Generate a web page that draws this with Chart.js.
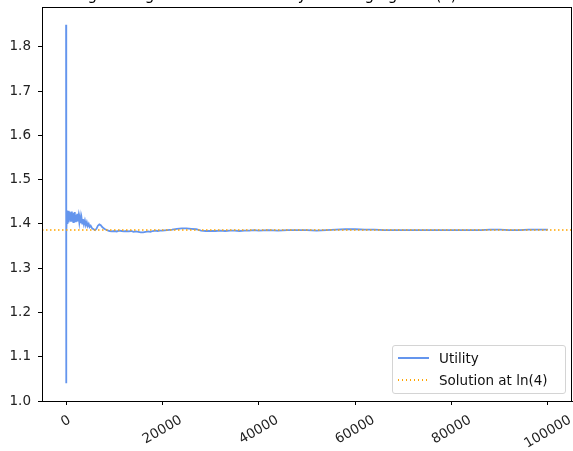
<!DOCTYPE html>
<html lang="en">
<head>
    <meta charset="UTF-8">
    <title>Utility running average</title>
    <style>
        body {
            margin: 0;
            padding: 0;
            background: #fff;
            width: 573px;
            height: 451px;
            overflow: hidden;
            position: relative;
            font-family: 'DejaVu Sans', sans-serif;
        }

        #chart {
            position: absolute;
            left: 0;
            top: -13px;
        }

        /* legend box, lower right inside the axes */
        #legend {
            position: absolute;
            left: 392px;
            top: 345px;
            width: 172px;
            height: 47px;
            border: 1px solid #d4d4d4;
            border-radius: 3px;
            background: rgba(255, 255, 255, 0.8);
            font-size: 13.5px;
            color: #111;
        }

        .entry {
            position: absolute;
            left: 0;
            height: 16px;
            line-height: 16px;
        }

        .sample {
            position: absolute;
            left: 5px;
            top: 7px;
            width: 31px;
            height: 1.6px;
        }

        .solid { background: #6495ED; }
        .dots { background: repeating-linear-gradient(90deg, #FFA500 0 1.5px, transparent 1.5px 4px); }

        .label {
            position: absolute;
            left: 46px;
            white-space: nowrap;
        }
    </style>
</head>
<body>
    <canvas id="chart" width="573" height="464"></canvas>

    <div id="legend">
        <div class="entry" style="top: 4px;">
            <span class="sample solid"></span>
            <span class="label">Utility</span>
        </div>
        <div class="entry" style="top: 26px;">
            <span class="sample dots"></span>
            <span class="label">Solution at ln(4)</span>
        </div>
    </div>

    <script src="https://cdn.jsdelivr.net/npm/chart.js"></script>
    <script>
        // iterations and running-average utility
        const iterations = [
            0, 1, 2, 3, 4, 5, 7, 10, 15, 22, 30, 45, 60, 80, 110, 150, 200, 260, 330, 400,
            480, 560, 650, 740, 830, 920, 1000, 1100, 1200, 1300, 1400, 1500, 1600, 1700, 1800, 1900,
            2000, 2150, 2300, 2450, 2600, 2750, 2900, 3050, 3200, 3350, 3500, 3700, 3900, 4100,
            4300, 4500, 4700, 4900, 5100, 5400, 5700, 6000, 6300, 6600, 6900, 7200, 7500, 7800,
            8100, 8500, 9000, 9500, 10000, 10500, 11000, 11500, 12000, 12500, 13000, 13500, 14000,
            14500, 15000, 15500, 16000, 16500, 17000, 17500, 18000, 18500, 19000, 19500, 20000,
            21000, 22000, 23000, 24000, 25000, 26000, 27000, 28000, 29000, 30000, 31000, 32000,
            33000, 34000, 35000, 36000, 37000, 38000, 39000, 40000, 42000, 44000, 46000, 48000,
            50000, 52000, 54000, 56000, 58000, 60000, 62000, 64000, 66000, 68000, 70000, 72000,
            74000, 76000, 78000, 80000, 82000, 84000, 86000, 88000, 90000, 92000, 94000, 96000,
            98000, 100000
        ];
        const utility = [
            1.85, 1.04, 1.46, 1.25, 1.38, 1.30, 1.43, 1.33, 1.41, 1.35, 1.44, 1.37, 1.42, 1.36, 1.41, 1.38, 1.43, 1.40, 1.425, 1.405,
            1.43, 1.41, 1.428, 1.408, 1.426, 1.405, 1.424, 1.41, 1.428, 1.407, 1.422, 1.404, 1.425, 1.41, 1.427, 1.406,
            1.42, 1.405, 1.423, 1.406, 1.418, 1.403, 1.416, 1.402, 1.414, 1.401, 1.411, 1.399, 1.408, 1.397,
            1.404, 1.395, 1.40, 1.393, 1.396, 1.39, 1.388, 1.386, 1.389, 1.396, 1.399, 1.397, 1.393, 1.39,
            1.388, 1.386, 1.384, 1.383, 1.384, 1.383, 1.385, 1.384, 1.383, 1.384, 1.383, 1.384, 1.382,
            1.383, 1.382, 1.381, 1.381, 1.382, 1.383, 1.382, 1.384, 1.385, 1.384, 1.385, 1.385,
            1.386, 1.387, 1.389, 1.390, 1.390, 1.389, 1.388, 1.385, 1.384, 1.384, 1.384, 1.385,
            1.384, 1.385, 1.385, 1.384, 1.385, 1.385, 1.386, 1.385, 1.386, 1.385, 1.386, 1.386,
            1.386, 1.385, 1.386, 1.387, 1.388, 1.388, 1.387, 1.387, 1.386, 1.386, 1.386, 1.386,
            1.386, 1.386, 1.386, 1.386, 1.386, 1.386, 1.386, 1.387, 1.387, 1.386, 1.386, 1.387,
            1.387, 1.387
        ];
        const solution = 1.3863;            // ln(4)
        const solutionSpan = [-5000, 105000];
        const xRange = [-5000, 105000];
        const yRange = [1.0, 1.89];
        const xTicks = [0, 20000, 40000, 60000, 80000, 100000];
        const yTicks = [1.0, 1.1, 1.2, 1.3, 1.4, 1.5, 1.6, 1.7, 1.8];

        const tickSize = 13.5;
        const tickFont = tickSize + 'px "DejaVu Sans", sans-serif';

        // own x tick labels: rotated 30 deg, box centred under the tick like matplotlib
        const rotatedLabels = {
            id: 'rotatedLabels',
            afterDraw(chart) {
                const ctx = chart.ctx;
                const scale = chart.scales.x;
                const area = chart.chartArea;
                const ang = 30 * Math.PI / 180;
                ctx.save();
                ctx.font = tickFont;
                ctx.fillStyle = '#222';
                ctx.textAlign = 'center';
                ctx.textBaseline = 'middle';
                scale.ticks.forEach(t => {
                    const txt = String(t.value);
                    const w = ctx.measureText(txt).width;
                    const h = tickSize * 1.17;
                    const boxH = w * Math.sin(ang) + h * Math.cos(ang);
                    const x = scale.getPixelForValue(t.value);
                    const y = area.bottom + 11.4 + boxH / 2;
                    ctx.save();
                    ctx.translate(x, y);
                    ctx.rotate(-ang);
                    ctx.fillText(txt, 0, 0);
                    ctx.restore();
                });
                // axes frame
                ctx.strokeStyle = '#000';
                ctx.lineWidth = 1;
                ctx.strokeRect(Math.round(area.left) + 0.5, Math.round(area.top) + 0.5,
                    Math.round(area.right - area.left) - 1, Math.round(area.bottom - area.top));
                ctx.restore();
            }
        };

        const points = iterations.map((x, i) => ({ x: x, y: utility[i] }));

        new Chart(document.getElementById('chart'), {
            type: 'line',
            data: {
                datasets: [{
                    label: 'Utility',
                    data: points,
                    borderColor: '#6495ED',
                    borderWidth: 1.8,
                    pointRadius: 0,
                    tension: 0,
                    order: 1
                }, {
                    label: 'Solution at ln(4)',
                    data: solutionSpan.map(x => ({ x: x, y: solution })),
                    borderColor: '#FFA500',
                    borderWidth: 1.4,
                    borderDash: [1.5, 2.5],
                    pointRadius: 0,
                    order: 0
                }]
            },
            options: {
                responsive: false,
                animation: false,
                layout: { padding: { left: 0, right: 1, top: 0, bottom: 0 } },
                plugins: {
                    legend: { display: false },
                    tooltip: { enabled: false },
                    title: {
                        display: true,
                        text: 'Running Average of the Mean Utility Converging to ln(4) over Time',
                        color: '#000',
                        font: { family: 'DejaVu Sans', size: 15, weight: 'normal', lineHeight: 1.2 },
                        padding: { top: 0, bottom: 2 }
                    }
                },
                scales: {
                    x: {
                        type: 'linear',
                        min: xRange[0],
                        max: xRange[1],
                        afterBuildTicks: s => { s.ticks = xTicks.map(v => ({ value: v })); },
                        ticks: { display: false },
                        grid: { drawOnChartArea: false, tickLength: 4, color: '#000' },
                        border: { display: true, color: '#000' },
                        afterFit: s => { s.height = 50; }
                    },
                    y: {
                        min: yRange[0],
                        max: yRange[1],
                        afterBuildTicks: s => { s.ticks = yTicks.map(v => ({ value: v })); },
                        ticks: {
                            padding: 7,
                            color: '#222',
                            font: { family: 'DejaVu Sans', size: tickSize },
                            callback: v => v.toFixed(1)
                        },
                        grid: { drawOnChartArea: false, tickLength: 4, color: '#000' },
                        border: { display: true, color: '#000' },
                        afterFit: s => { s.width = 42; }
                    }
                }
            },
            plugins: [rotatedLabels]
        });
    </script>
</body>
</html>
